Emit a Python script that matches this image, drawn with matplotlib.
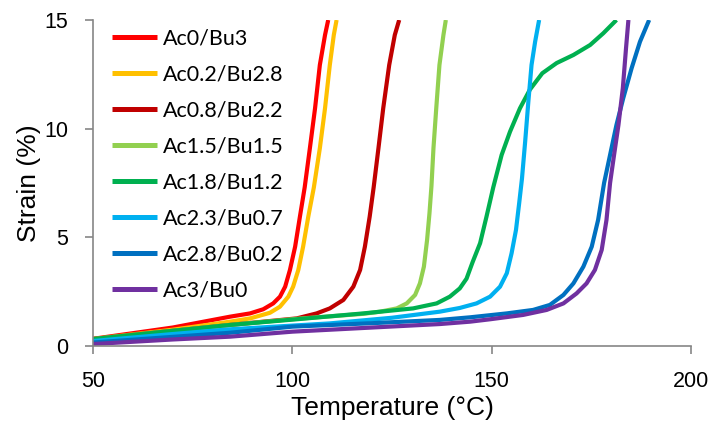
import matplotlib
matplotlib.use("Agg")
import matplotlib.pyplot as plt

labels = ["Ac0/Bu3", "Ac0.2/Bu2.8", "Ac0.8/Bu2.2", "Ac1.5/Bu1.5",
          "Ac1.8/Bu1.2", "Ac2.3/Bu0.7", "Ac2.8/Bu0.2", "Ac3/Bu0"]
colors = ["#FF0000", "#FFC000", "#C00000", "#92D050",
          "#00B050", "#00B0F0", "#0070C0", "#7030A0"]

x_ac0 = [50, 70, 84.4, 89.4, 92.7, 95.2, 96.9, 98.2, 99.4, 100.7, 101.9, 103.1, 104.4, 105.7, 106.9, 108.2, 109.0]
y_ac0 = [0.33, 0.85, 1.35, 1.50, 1.69, 1.96, 2.27, 2.73, 3.50, 4.57, 5.95, 7.3, 9.10, 10.94, 12.93, 14.31, 15]

x_ac02 = [50, 70, 84.4, 89.4, 94.4, 96.9, 99.0, 100.2, 101.5, 102.7, 104.0, 105.4, 106.9, 108.2, 109.4, 110.4, 111.1]
y_ac02 = [0.32, 0.75, 1.12, 1.27, 1.53, 1.81, 2.27, 2.73, 3.50, 4.57, 5.95, 7.3, 9.10, 10.94, 12.93, 14.31, 15]

x_ac08 = [50, 70, 84.4, 101.1, 106.1, 109.4, 112.8, 115.3, 117.0, 118.2, 119.4, 120.4, 121.6, 122.8, 124.3, 125.7, 126.8]
y_ac08 = [0.32, 0.7, 0.97, 1.27, 1.50, 1.73, 2.12, 2.73, 3.50, 4.57, 5.95, 7.3, 9.10, 10.94, 12.93, 14.31, 15]

x_ac15 = [50, 70, 84.4, 101.1, 117.8, 122.0, 126.2, 128.7, 130.8, 132.0, 133.0, 133.8, 134.4, 134.9, 135.4, 136.1, 136.9, 137.9, 138.5]
y_ac15 = [0.32, 0.7, 0.97, 1.25, 1.48, 1.58, 1.73, 1.96, 2.35, 2.88, 3.65, 4.88, 6.11, 7.37, 9.10, 10.94, 12.93, 14.31, 15]

x_ac18 = [50, 70, 84.4, 101.1, 117.8, 130.3, 136.2, 139.5, 142.0, 143.7, 145.2, 147.1, 148.7, 150.4,
          152.5, 154.6, 157.1, 159.6, 162.7, 166.3, 170.5, 174.7, 178.0, 181.3]
y_ac18 = [0.32, 0.7, 0.97, 1.23, 1.50, 1.73, 1.96, 2.27, 2.65, 3.1, 3.85, 4.73, 5.95, 7.3,
          8.79, 9.86, 10.94, 11.8, 12.55, 13.02, 13.39, 13.85, 14.39, 15]

x_ac23 = [50, 70, 84.4, 109.4, 125, 137.0, 142.0, 146.2, 149.6, 152.1, 153.8, 155.0, 156.1, 156.9,
          157.6, 158.4, 159.2, 160.0, 160.9, 161.9]
y_ac23 = [0.23, 0.55, 0.77, 1.04, 1.3, 1.58, 1.75, 1.96, 2.27, 2.73, 3.35, 4.27, 5.34, 6.57,
          7.7, 9.40, 11.24, 12.93, 14.0, 15]

x_ac28 = [50, 70, 84.4, 100, 120, 137.0, 144.6, 153.8, 160.4, 164.6, 168.0, 170.5, 173.0, 175.1, 176.7,
          178.2, 179.7, 181.3, 183.0, 185.1, 187.2, 189.5]
y_ac28 = [0.16, 0.42, 0.61, 0.89, 1.05, 1.2, 1.32, 1.50, 1.66, 1.89, 2.35, 2.88, 3.65, 4.57, 5.80,
          7.5, 8.79, 10.17, 11.40, 12.78, 14.0, 15]

x_ac3 = [50, 70, 84.4, 100, 120, 137.0, 144.6, 149.6, 157.9, 163.8, 168.0, 171.3, 173.8, 175.9, 177.6,
         178.8, 179.7, 180.7, 181.8, 182.9, 183.7, 184.3]
y_ac3 = [0.09, 0.3, 0.43, 0.66, 0.85, 1.01, 1.12, 1.23, 1.43, 1.66, 1.96, 2.42, 2.88, 3.50, 4.42,
         5.80, 7.5, 8.79, 10.17, 11.86, 13.7, 15]

series_x = [x_ac0, x_ac02, x_ac08, x_ac15, x_ac18, x_ac23, x_ac28, x_ac3]
series_y = [y_ac0, y_ac02, y_ac08, y_ac15, y_ac18, y_ac23, y_ac28, y_ac3]

x_ticks = [50, 100, 150, 200]
y_ticks = [0, 5, 10, 15]

fig = plt.figure(figsize=(7.15, 4.26), dpi=100)
ax = fig.add_axes([93 / 715, 80 / 426, 598 / 715, 326 / 426])

for xs, ys, c, lab in zip(series_x, series_y, colors, labels):
    ax.plot(xs, ys, color=c, lw=3.0, label=lab, solid_joinstyle="round",
            solid_capstyle="butt")

ax.set_xlim(50, 200)
ax.set_ylim(0, 15)
ax.set_xticks(x_ticks)
ax.set_yticks(y_ticks)

axis_col = "#868686"
for side in ["top", "right"]:
    ax.spines[side].set_visible(False)
for side in ["left", "bottom"]:
    ax.spines[side].set_color(axis_col)
    ax.spines[side].set_linewidth(1.2)
ax.tick_params(direction="out", length=6, width=1.2, color=axis_col,
               labelsize=15.5, labelcolor="black")
ax.tick_params(axis="x", pad=12)
ax.tick_params(axis="y", pad=12)
for t in ax.get_xticklabels() + ax.get_yticklabels():
    t.set_family("Liberation Sans")

ax.set_xlabel("Temperature (\u00b0C)", fontsize=19, family="Liberation Sans", labelpad=3)
ax.set_ylabel("Strain (%)", fontsize=19, family="Liberation Sans", labelpad=2)

leg = ax.legend(loc="upper left", frameon=False,
                prop={"family": "Lato", "size": 15.5},
                handlelength=2.1, handletextpad=0.25, labelspacing=0.74,
                borderaxespad=0.0, bbox_to_anchor=(0.0174, 1.0))
for line in leg.get_lines():
    line.set_linewidth(3.6)

fig.savefig("out.png", dpi=100)
